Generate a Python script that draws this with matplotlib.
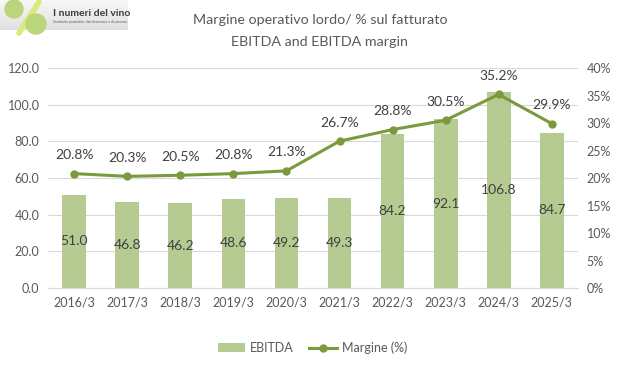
import matplotlib
matplotlib.use("Agg")
import matplotlib.pyplot as plt
import numpy as np
from matplotlib.ticker import FuncFormatter
from matplotlib.patches import Circle

plt.rcParams['font.family'] = ['Lato', 'DejaVu Sans']

years = ['2016/3', '2017/3', '2018/3', '2019/3', '2020/3', '2021/3',
         '2022/3', '2023/3', '2024/3', '2025/3']
ebitda = [51.0, 46.8, 46.2, 48.6, 49.2, 49.3, 84.2, 92.1, 106.8, 84.7]
margin = [20.8, 20.3, 20.5, 20.8, 21.3, 26.7, 28.8, 30.5, 35.2, 29.9]

bar_color = '#B5CB92'
line_color = '#7B9A3E'
text_color = '#404040'
tick_color = '#595959'

W, H = 621, 369
fig = plt.figure(figsize=(W / 100, H / 100), dpi=100)
ax = fig.add_axes([0.077, 0.2195, 0.854, 0.5962])
ax2 = ax.twinx()

x = np.arange(len(years))
bars = ax.bar(x, ebitda, width=0.45, color=bar_color, label='EBITDA', zorder=2)
for xi, v in zip(x, ebitda):
    ax.text(xi, v / 2, f'{v:.1f}', ha='center', va='center', fontsize=10, color=text_color)

ax.set_ylim(0, 120)
ax.set_yticks(np.arange(0, 121, 20))
ax.yaxis.set_major_formatter(FuncFormatter(lambda v, p: f'{v:.1f}'))
ax.set_xlim(-0.5, len(years) - 0.5)
ax.set_xticks(x)
ax.set_xticklabels(years)
ax.grid(axis='y', color='#D9D9D9', linewidth=0.8, zorder=0)
ax.set_axisbelow(True)

line, = ax2.plot(x, margin, color=line_color, linewidth=2.2, marker='o', markersize=5,
                 label='Margine (%)', zorder=3)
for xi, v in zip(x, margin):
    ax2.annotate(f'{v:.1f}%', (xi, v), xytext=(0, 9), textcoords='offset points',
                 ha='center', va='bottom', fontsize=10, color=text_color)
ax2.set_ylim(0, 40)
ax2.set_yticks(np.arange(0, 41, 5))
ax2.yaxis.set_major_formatter(FuncFormatter(lambda v, p: f'{v:.0f}%'))

for a in (ax, ax2):
    for s in a.spines.values():
        s.set_visible(False)
    a.tick_params(length=0, labelsize=9, colors=tick_color)
ax.spines['bottom'].set_visible(True)
ax.spines['bottom'].set_color('#D9D9D9')
ax.tick_params(axis='x', pad=6)
ax.tick_params(axis='y', pad=6)
ax2.tick_params(axis='y', pad=6)

fig.text(0.515, 0.945, 'Margine operativo lordo/ % sul fatturato', ha='center', va='center',
         fontsize=10.3, color=tick_color)
fig.text(0.515, 0.885, 'EBITDA and EBITDA margin', ha='center', va='center',
         fontsize=10.3, color=tick_color)

# logo in pixel coordinates (y downwards)
lg = fig.add_axes([0, 1 - 40 / H, 130 / W, 40 / H])
lg.set_xlim(0, 130)
lg.set_ylim(40, 0)
lg.axis('off')
grad = np.linspace(0.97, 0.88, 50).reshape(-1, 1)
lg.imshow(np.dstack([grad, grad, grad]), extent=(0, 128, 30, 0), aspect='auto', zorder=0)
lg.add_patch(Circle((14, 9), 9, color='#B9D67A', zorder=2))
lg.plot([39, 19], [2, 33], color='#D8EA7A', linewidth=4, solid_capstyle='round', zorder=3)
lg.add_patch(Circle((36, 24), 10, color='#B9D67A', zorder=4))
lg.text(53, 13, 'I numeri del vino', ha='left', va='center', fontsize=7.5,
        color='#3A3A3A', fontweight='bold')
lg.text(53, 22, 'Statistiche produttive, dati di mercato e di consumo', ha='left',
        va='center', fontsize=2.3, color='#555555')

fig.legend(handles=[bars, line], labels=['EBITDA', 'Margine (%)'], loc='center',
           bbox_to_anchor=(0.503, 0.057), ncol=2, frameon=False, fontsize=9,
           labelcolor=tick_color, handlelength=2.2, handletextpad=0.4, columnspacing=1.2)

fig.savefig('out.png', dpi=100)
